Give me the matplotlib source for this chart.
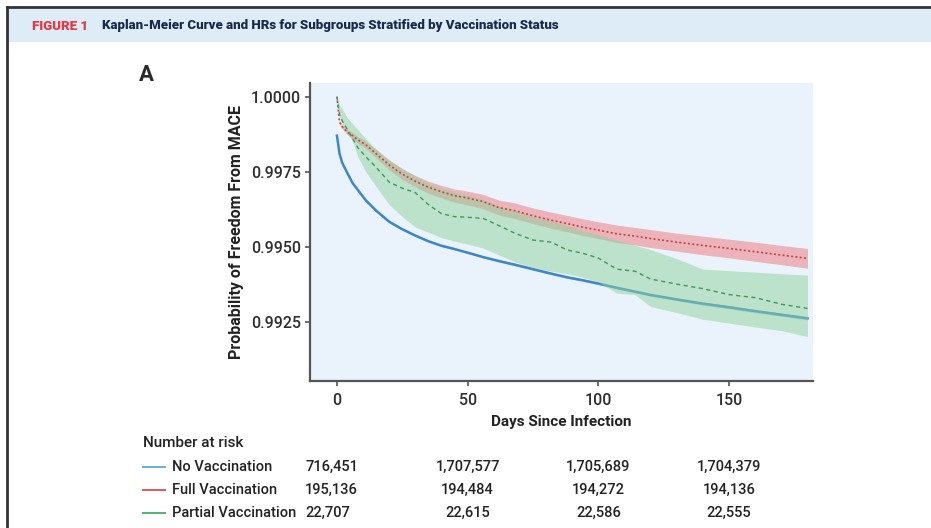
import matplotlib
matplotlib.use("Agg")
import matplotlib.pyplot as plt
from matplotlib.patches import Rectangle
from matplotlib.lines import Line2D
from matplotlib.transforms import blended_transform_factory
import numpy as np

plt.rcParams['font.family'] = ['Roboto', 'DejaVu Sans']

# ---------------- data ----------------
days = [0, 1, 2, 4, 6, 8, 11, 15, 20, 25, 30, 35, 40, 45, 50, 56, 62, 68, 75, 82,
        88, 94, 100, 107, 114, 120, 130, 140, 150, 160, 170, 180]

no_vacc = [0.99870, 0.99810, 0.99780, 0.99745, 0.99712, 0.99689, 0.99655, 0.99620,
           0.99583, 0.99558, 0.99537, 0.99518, 0.99503, 0.99492, 0.99480, 0.99465,
           0.99452, 0.99440, 0.99425, 0.99410, 0.99398, 0.99388, 0.99377, 0.99363,
           0.99350, 0.99339, 0.99324, 0.99310, 0.99298, 0.99285, 0.99273, 0.99261]
no_vacc_hw = [0.00002, 0.00003, 0.00003, 0.00003, 0.00003, 0.00003, 0.00003, 0.00003,
              0.00003, 0.00003, 0.00003, 0.00003, 0.00003, 0.00003, 0.00003, 0.00003,
              0.00004, 0.00004, 0.00004, 0.00004, 0.00004, 0.00004, 0.00004, 0.00004,
              0.00004, 0.00004, 0.00004, 0.00005, 0.00005, 0.00005, 0.00005, 0.00005]

full_vacc = [1.00000, 0.99915, 0.99900, 0.99882, 0.99870, 0.99856, 0.99840, 0.99810,
             0.99772, 0.99742, 0.99718, 0.99698, 0.99683, 0.99670, 0.99662, 0.99650,
             0.99630, 0.99620, 0.99603, 0.99588, 0.99577, 0.99565, 0.99555, 0.99543,
             0.99535, 0.99527, 0.99515, 0.99504, 0.99494, 0.99483, 0.99472, 0.99461]
full_vacc_hw = [0.00000, 0.00005, 0.00007, 0.00009, 0.00010, 0.00011, 0.00012, 0.00014,
                0.00016, 0.00018, 0.00019, 0.00020, 0.00021, 0.00022, 0.00023, 0.00024,
                0.00025, 0.00026, 0.00026, 0.00027, 0.00027, 0.00028, 0.00028, 0.00029,
                0.00029, 0.00030, 0.00030, 0.00031, 0.00031, 0.00032, 0.00032, 0.00033]

partial_vacc = [1.00000, 0.99940, 0.99920, 0.99890, 0.99860, 0.99830, 0.99800, 0.99765,
                0.99715, 0.99695, 0.99680, 0.99640, 0.99610, 0.99600, 0.99598, 0.99594,
                0.99570, 0.99545, 0.99522, 0.99515, 0.99489, 0.99478, 0.99462, 0.99425,
                0.99418, 0.99392, 0.99375, 0.99360, 0.99340, 0.99330, 0.99308, 0.99294]
partial_upper = [1.00000, 0.99970, 0.99960, 0.99930, 0.99910, 0.99890, 0.99860, 0.99825,
                 0.99790, 0.99760, 0.99735, 0.99712, 0.99695, 0.99682, 0.99672, 0.99658,
                 0.99635, 0.99620, 0.99600, 0.99585, 0.99570, 0.99555, 0.99540, 0.99522,
                 0.99505, 0.99490, 0.99460, 0.99425, 0.99420, 0.99415, 0.99410, 0.99405]
partial_lower = [1.00000, 0.99935, 0.99910, 0.99880, 0.99850, 0.99800, 0.99750, 0.99700,
                 0.99640, 0.99600, 0.99565, 0.99548, 0.99530, 0.99518, 0.99508, 0.99495,
                 0.99472, 0.99450, 0.99430, 0.99418, 0.99410, 0.99398, 0.99382, 0.99345,
                 0.99340, 0.99300, 0.99280, 0.99258, 0.99245, 0.99232, 0.99220, 0.99200]

x_ticks = [0, 50, 100, 150]
y_ticks = [0.9925, 0.9950, 0.9975, 1.0000]
y_tick_labels = ["0.9925", "0.9950", "0.9975", "1.0000"]

groups = ["No Vaccination", "Full Vaccination", "Partial Vaccination"]
risk_days = [0, 50, 100, 150]
at_risk = [
    ["716,451", "1,707,577", "1,705,689", "1,704,379"],
    ["195,136", "194,484", "194,272", "194,136"],
    ["22,707", "22,615", "22,586", "22,555"],
]

title_tag = "FIGURE 1"
title_text = "Kaplan-Meier Curve and HRs for Subgroups Stratified by Vaccination Status"

# ---------------- figure ----------------
W, H = 931, 528
fig = plt.figure(figsize=(W / 100, H / 100), dpi=100)
fig.patch.set_facecolor("white")


def fx(px):
    return px / W


def fy(py):
    return 1 - py / H


# banner + border
fig.patches.append(Rectangle((fx(8), fy(42)), fx(931) - fx(8), fy(8) - fy(42),
                             transform=fig.transFigure, facecolor="#DEECF8",
                             edgecolor="none", zorder=0))
fig.lines.append(Line2D([fx(7), fx(931)], [fy(7), fy(7)], transform=fig.transFigure,
                        color="#333333", lw=2))
fig.lines.append(Line2D([fx(7), fx(7)], [fy(7), fy(528)], transform=fig.transFigure,
                        color="#333333", lw=2))
fig.text(fx(32), fy(26), title_tag, color="#E8373E", fontsize=9.5, fontweight="heavy",
         va="center", ha="left")
fig.text(fx(102), fy(26), title_text, color="#1B2A4A", fontsize=9.5,
         fontweight="heavy", va="center", ha="left")
fig.text(fx(139), fy(75), "A", color="#2A2A2A", fontsize=16, fontweight="bold",
         va="center", ha="left")

# axes
ax = fig.add_axes([fx(310), fy(381), fx(813) - fx(310), fy(83) - fy(381)])
ax.set_facecolor("#EAF3FC")
ax.set_xlim(-10.3, 182.1)
ax.set_ylim(0.99052, 1.000457)

d = np.array(days)
nv = np.array(no_vacc)
nvh = np.array(no_vacc_hw)
fv = np.array(full_vacc)
fvh = np.array(full_vacc_hw)

ax.fill_between(d, nv - nvh, nv + nvh, color="#8CC3EA", alpha=0.8, lw=0, zorder=1)
ax.plot(d, nv, color="#3F86C6", lw=1.8, zorder=2)
ax.fill_between(d, fv - fvh, fv + fvh, color="#EE7F86", alpha=0.55, lw=0, zorder=3)
ax.fill_between(d, partial_lower, partial_upper, color="#8FD39B", alpha=0.5, lw=0,
                zorder=4)
ax.plot(d, fv, color="#C8453A", lw=1.2, ls=(0, (1.2, 1.4)), zorder=5)
ax.plot(d, partial_vacc, color="#3C9A58", lw=1.0, ls=(0, (3, 2.5)), zorder=5)

for s in ["top", "right"]:
    ax.spines[s].set_visible(False)
for s in ["left", "bottom"]:
    ax.spines[s].set_color("#555555")
    ax.spines[s].set_linewidth(1.6)

ax.set_xticks(x_ticks)
ax.set_xticklabels([str(t) for t in x_ticks])
ax.set_yticks(y_ticks)
ax.set_yticklabels(y_tick_labels)
ax.tick_params(axis="both", length=3.5, width=1.2, color="#555555", labelsize=11.5,
               labelcolor="#2E2E2E")
ax.tick_params(axis="y", pad=3)
ax.tick_params(axis="x", pad=5)
for lbl in ax.get_xticklabels() + ax.get_yticklabels():
    lbl.set_fontweight("medium")
ax.set_xlabel("Days Since Infection", fontsize=11, fontweight="bold",
              color="#222222", labelpad=5)
ax.set_ylabel("Probability of Freedom From MACE", fontsize=11.5, fontweight="bold",
              color="#222222", labelpad=5)

# number at risk table
fig.text(fx(143), fy(443), "Number at risk", fontsize=11, fontweight="medium",
         color="#222222", va="center", ha="left")
legend_colors = ["#6AAED6", "#E05A5A", "#52B272"]
row_y = [467, 490, 513]
trans = blended_transform_factory(ax.transData, fig.transFigure)
for i, g in enumerate(groups):
    yy = fy(row_y[i])
    fig.lines.append(Line2D([fx(143), fx(165)], [yy, yy], transform=fig.transFigure,
                            color=legend_colors[i], lw=1.4))
    fig.text(fx(172), yy, g, fontsize=10.5, fontweight="medium", color="#222222",
             va="center", ha="left")
    for j, dd in enumerate(risk_days):
        if j == 0:
            fig.text(fx(305), yy, at_risk[i][j], fontsize=10.5, fontweight="medium",
                     color="#222222", va="center", ha="left")
        else:
            fig.text(dd, yy, at_risk[i][j], fontsize=10.5, fontweight="medium",
                     color="#222222", va="center", ha="center", transform=trans)

fig.savefig("out.png", dpi=100)
